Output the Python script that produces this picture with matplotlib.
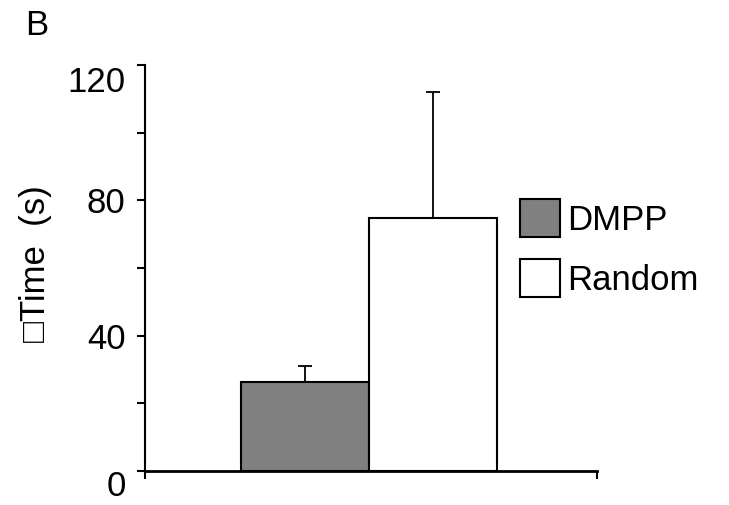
import matplotlib.pyplot as plt
import matplotlib.transforms as mtransforms

plt.rcParams['font.family'] = ['Liberation Sans', 'DejaVu Sans']

# data
groups = ['DMPP', 'Random']
means = [26.4, 74.7]
errs = [4.6, 37.5]
colors = ['#808080', 'white']
yticks_major = [0, 40, 80, 120]
yticks_minor = [20, 60, 100]

fig = plt.figure(figsize=(7.29, 5.05), dpi=100)
ax = fig.add_axes([0.199, 0.067, 0.62, 0.804])

left = [0.2124, 0.4956]
w = 0.2832
for i in range(2):
    ax.bar(left[i], means[i], width=w, align='edge', color=colors[i],
           edgecolor='black', linewidth=1.5, label=groups[i], zorder=2)
    ax.errorbar(left[i] + w / 2, means[i], yerr=[[0], [errs[i]]], fmt='none',
                ecolor='black', elinewidth=1.3, capsize=5, capthick=1.3, zorder=1)

ax.set_xlim(0, 1)
ax.set_ylim(0, 120)
ax.set_yticks(yticks_major)
ax.set_yticks(yticks_minor, minor=True)
ax.set_yticklabels([str(v) for v in yticks_major], fontsize=25)
ax.tick_params(axis='y', which='both', direction='out', length=6, width=1.5, pad=8)
ax.set_xticks([0, 1])
ax.set_xticklabels([])
ax.tick_params(axis='x', direction='out', length=6, width=1.5)

# shift the end labels down like in the original
labels = ax.get_yticklabels()
labels[0].set_transform(labels[0].get_transform() +
                        mtransforms.ScaledTranslation(0, -12 / 100, fig.dpi_scale_trans))
labels[-1].set_transform(labels[-1].get_transform() +
                         mtransforms.ScaledTranslation(0, -14 / 100, fig.dpi_scale_trans))

for s in ['top', 'right']:
    ax.spines[s].set_visible(False)
ax.spines['left'].set_linewidth(1.5)
ax.spines['bottom'].set_linewidth(2)

ax.set_ylabel('\u25a1Time  (s)', fontsize=25)
ax.yaxis.set_label_coords(-0.205, 0.51)

fig.text(0.034, 0.95, 'B', fontsize=25, va='center')

ax.legend(loc='upper left', bbox_to_anchor=(0.713, 0.606), bbox_transform=fig.transFigure,
          frameon=False, fontsize=25, handlelength=1.15, handleheight=1.3,
          handletextpad=0.2, labelspacing=0.65, borderpad=0, borderaxespad=0)

fig.savefig('out.png', dpi=100)
